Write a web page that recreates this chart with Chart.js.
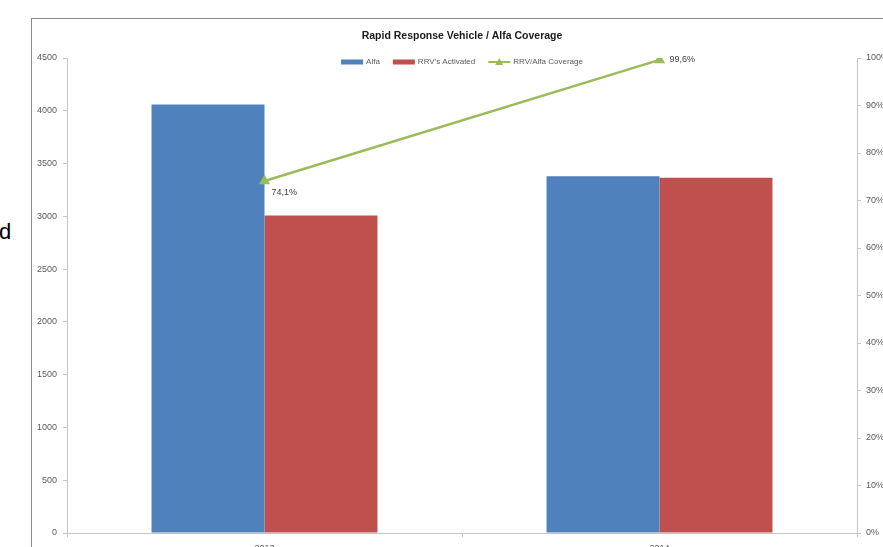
<!DOCTYPE html>
<html>
<head>
<meta charset="utf-8">
<script src="https://cdn.jsdelivr.net/npm/chart.js@4"></script>
<style>
  html, body { margin: 0; padding: 0; background: #fff; overflow: hidden; }
  body { width: 883px; height: 547px; position: relative; }
  #frame { position: absolute; left: 31px; top: 18px; width: 900px; height: 600px;
           border-left: 1px solid #8a8a8a; border-top: 1px solid #8a8a8a; }
  #stray { position: absolute; left: -1px; top: 219px; font: 22px "Liberation Sans", sans-serif; color: #000; }
  #chart { position: absolute; left: 0; top: 0; }
</style>
</head>
<body>
<div id="stray">d</div>
<div id="frame"></div>
<canvas id="chart" width="883" height="560"></canvas>
<script>
// Rapid Response Vehicle / Alfa coverage per year
const years = ['2013', '2014'];
const alfa = [4060, 3380];
const rrvActivated = [3008, 3366];
const coverage = [74.1, 99.6];   // percent
const countTicks = [0, 500, 1000, 1500, 2000, 2500, 3000, 3500, 4000, 4500];
const percentTicks = [0, 10, 20, 30, 40, 50, 60, 70, 80, 90, 100];
const chartTitle = 'Rapid Response Vehicle / Alfa Coverage';

const BLUE = '#4F81BD';
const RED = '#C0504D';
const GREEN = '#9BBB59';
const AXIS = '#c4c4c4';
const TEXT = '#595959';
const FONT = '"Liberation Sans", Arial, sans-serif';

function pct(v) {
    return v.toFixed(1).replace('.', ',') + '%';
}

// Title and small legend, centred over the plot area
const comboLegend = {
    id: 'comboLegend',
    afterDraw(chart) {
        const ctx = chart.ctx;
        const area = chart.chartArea;
        const cx = (area.left + area.right) / 2;
        ctx.save();
        ctx.textBaseline = 'middle';
        ctx.textAlign = 'center';
        ctx.fillStyle = '#1a1a1a';
        ctx.font = 'bold 10.5px ' + FONT;
        ctx.fillText(chartTitle, cx, area.top - 22);

        const y = area.top + 4;
        ctx.font = '8px ' + FONT;
        const items = chart.data.datasets.map(ds => ({
            text: ds.label, type: ds.type || 'bar', color: ds.borderColor || ds.backgroundColor
        }));
        const box = 22, gap = 3, spacing = 13;
        let total = 0;
        items.forEach(it => { it.w = box + gap + ctx.measureText(it.text).width; total += it.w; });
        total += spacing * (items.length - 1);
        let x = cx - total / 2;
        items.forEach(it => {
            if (it.type === 'line') {
                ctx.strokeStyle = it.color;
                ctx.lineWidth = 2;
                ctx.beginPath();
                ctx.moveTo(x, y);
                ctx.lineTo(x + box, y);
                ctx.stroke();
                ctx.fillStyle = it.color;
                ctx.beginPath();
                ctx.moveTo(x + box / 2, y - 4);
                ctx.lineTo(x + box / 2 + 4, y + 3);
                ctx.lineTo(x + box / 2 - 4, y + 3);
                ctx.closePath();
                ctx.fill();
            } else {
                ctx.fillStyle = it.color;
                ctx.fillRect(x, y - 2.5, box, 5);
            }
            ctx.fillStyle = TEXT;
            ctx.textAlign = 'left';
            ctx.fillText(it.text, x + box + gap, y);
            x += it.w + spacing;
        });
        ctx.restore();
    }
};

// Value labels next to the coverage points
const coverageLabels = {
    id: 'coverageLabels',
    afterDatasetsDraw(chart) {
        const meta = chart.getDatasetMeta(2);
        const ctx = chart.ctx;
        ctx.save();
        ctx.font = '9px ' + FONT;
        ctx.fillStyle = '#404040';
        ctx.textAlign = 'left';
        ctx.textBaseline = 'middle';
        meta.data.forEach((pt, i) => {
            const last = i === meta.data.length - 1;
            const dx = last ? 10 : 7;
            const dy = last ? 0 : 11;
            ctx.fillText(pct(coverage[i]), pt.x + dx, pt.y + dy);
        });
        ctx.restore();
    }
};

const ctx = document.getElementById('chart').getContext('2d');
new Chart(ctx, {
    data: {
        labels: years,
        datasets: [
            {
                type: 'bar', label: 'Alfa', data: alfa, yAxisID: 'y',
                backgroundColor: BLUE, borderWidth: 0, order: 2,
                categoryPercentage: 0.572, barPercentage: 1
            },
            {
                type: 'bar', label: "RRV's Activated", data: rrvActivated, yAxisID: 'y',
                backgroundColor: RED, borderWidth: 0, order: 2,
                categoryPercentage: 0.572, barPercentage: 1
            },
            {
                type: 'line', label: 'RRV/Alfa Coverage', data: coverage, yAxisID: 'y1',
                borderColor: GREEN, backgroundColor: GREEN, borderWidth: 2.5,
                pointStyle: 'triangle', pointRadius: 4, pointBackgroundColor: GREEN,
                pointBorderColor: GREEN, order: 1, tension: 0
            }
        ]
    },
    options: {
        responsive: false,
        animation: false,
        layout: { padding: { top: 58 } },
        plugins: {
            legend: { display: false },
            tooltip: { enabled: false },
            title: { display: false }
        },
        scales: {
            x: {
                afterFit: s => { s.height = 27; },
                grid: { drawOnChartArea: false, color: AXIS, tickLength: 4 },
                border: { color: AXIS },
                ticks: { color: TEXT, font: { family: FONT, size: 9 }, padding: 6 }
            },
            y: {
                position: 'left',
                min: 0, max: 4500,
                afterFit: s => { s.width = 67; },
                afterBuildTicks: s => { s.ticks = countTicks.map(v => ({ value: v })); },
                grid: { drawOnChartArea: false, color: AXIS, tickLength: 4 },
                border: { color: AXIS },
                ticks: { color: TEXT, font: { family: FONT, size: 9 }, padding: 6, callback: v => String(v) }
            },
            y1: {
                position: 'right',
                min: 0, max: 100,
                afterFit: s => { s.width = 26; },
                afterBuildTicks: s => { s.ticks = percentTicks.map(v => ({ value: v })); },
                grid: { drawOnChartArea: false, color: AXIS, tickLength: 4 },
                border: { color: AXIS },
                ticks: { color: TEXT, font: { family: FONT, size: 9 }, padding: 5, callback: v => v + '%' }
            }
        }
    },
    plugins: [comboLegend, coverageLabels]
});
</script>
</body>
</html>
